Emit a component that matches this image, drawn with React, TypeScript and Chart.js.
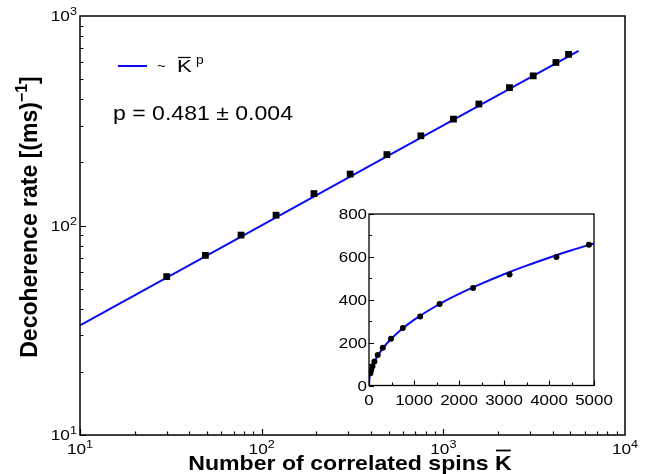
import React, { useEffect, useRef } from 'react';
import { Chart, registerables } from 'chart.js';

Chart.register(...registerables);

// ---- data ----
const spinsK = [30, 49, 77, 120, 194, 307, 489, 752, 1137, 1569, 2312, 3124, 4165, 4887];
const decoRate = [57, 72, 90, 112, 142, 176, 218, 268, 322, 380, 455, 518, 600, 656];
// fitted power-law line (end points as seen on the log-log plot)
const fitLineK = [10, 5550];
const fitLineRate = [33.4, 682];
// fitted curve as seen in the linear inset
const insetCurveK = [0, 10, 25, 50, 100, 200, 400, 700, 1000, 1500, 2000, 2500, 3000, 3500, 4000, 4500, 5000];
const insetCurveRate = [0, 33, 52, 72, 101, 141, 197, 258, 306, 372, 427, 475, 519, 559, 596, 631, 663];
// tick labels
const mainXTickValues = [10, 100, 1000, 10000];
const mainXTickExp = ['1', '2', '3', '4'];
const mainYTickValues = [10, 100, 1000];
const mainYTickExp = ['1', '2', '3'];
const insetXTickValues = [0, 1000, 2000, 3000, 4000, 5000];
const insetYTickValues = [0, 200, 400, 600, 800];

const BLUE = '#0a0af5';
const FONT = '"Liberation Sans", Arial, Helvetica, sans-serif';
const SX = 1.15; // horizontal text stretch seen in the reference

type Run = { t: string; font: string; dy?: number };

function drawRuns(
  ctx: CanvasRenderingContext2D,
  runs: Run[],
  x: number,
  y: number,
  align: 'left' | 'center' | 'right',
  sx = 1,
) {
  const widths = runs.map((r) => {
    ctx.font = r.font;
    return ctx.measureText(r.t).width * sx;
  });
  const total = widths.reduce((a, b) => a + b, 0);
  let cx = align === 'left' ? x : align === 'center' ? x - total / 2 : x - total;
  const starts: number[] = [];
  ctx.textAlign = 'left';
  ctx.textBaseline = 'alphabetic';
  runs.forEach((r, i) => {
    ctx.font = r.font;
    starts.push(cx);
    ctx.save();
    ctx.translate(cx, y + (r.dy || 0));
    ctx.scale(sx, 1);
    ctx.fillText(r.t, 0, 0);
    ctx.restore();
    cx += widths[i];
  });
  return { starts, widths, total };
}

const mainDecor = {
  id: 'mainDecor',
  afterDraw(chart: any) {
    const ctx: CanvasRenderingContext2D = chart.ctx;
    const { left, right, top, bottom } = chart.chartArea;
    const xs = chart.scales.x;
    const ys = chart.scales.y;
    ctx.save();
    ctx.strokeStyle = '#000';
    ctx.fillStyle = '#000';
    // frame
    ctx.lineWidth = 1.5;
    ctx.strokeRect(left, top, right - left, bottom - top);
    // ticks (inward)
    ctx.lineWidth = 1.2;
    ctx.beginPath();
    for (let d = 1; d <= 3; d++) {
      for (let m = 1; m <= 9; m++) {
        const v = m * Math.pow(10, d);
        const px = Math.round(xs.getPixelForValue(v)) + 0.5;
        const len = m === 1 ? 6 : 3.5;
        ctx.moveTo(px, bottom);
        ctx.lineTo(px, bottom - len);
      }
    }
    for (let d = 1; d <= 2; d++) {
      for (let m = 1; m <= 9; m++) {
        const v = m * Math.pow(10, d);
        const py = Math.round(ys.getPixelForValue(v)) + 0.5;
        const len = m === 1 ? 6 : 3.5;
        ctx.moveTo(left, py);
        ctx.lineTo(left + len, py);
      }
    }
    ctx.stroke();
    // tick labels
    mainXTickValues.forEach((v, i) => {
      const px = xs.getPixelForValue(v);
      drawRuns(ctx, [
        { t: '10', font: `15px ${FONT}` },
        { t: mainXTickExp[i], font: `11px ${FONT}`, dy: -6 },
      ], px, bottom + 19, 'center', SX);
    });
    mainYTickValues.forEach((v, i) => {
      const py = ys.getPixelForValue(v);
      drawRuns(ctx, [
        { t: '10', font: `15px ${FONT}` },
        { t: mainYTickExp[i], font: `11px ${FONT}`, dy: -6 },
      ], left - 3, py + 5, 'right', SX);
    });
    // x title
    const xt = drawRuns(ctx, [
      { t: 'Number of correlated spins ', font: `bold 21px ${FONT}` },
      { t: 'K', font: `bold 21px ${FONT}` },
    ], 350, 470, 'center', 1.1);
    ctx.lineWidth = 1.8;
    ctx.beginPath();
    ctx.moveTo(xt.starts[1] + 1, 450.5);
    ctx.lineTo(xt.starts[1] + xt.widths[1] - 1, 450.5);
    ctx.stroke();
    // y title
    ctx.save();
    ctx.translate(37, 217);
    ctx.rotate(-Math.PI / 2);
    drawRuns(ctx, [
      { t: 'Decoherence rate [(ms)', font: `bold 23px ${FONT}` },
      { t: '\u22121', font: `bold 16px ${FONT}`, dy: -10 },
      { t: ']', font: `bold 23px ${FONT}` },
    ], 0, 0, 'center');
    ctx.restore();
    // legend
    ctx.strokeStyle = BLUE;
    ctx.lineWidth = 2;
    ctx.beginPath();
    ctx.moveTo(118, 66);
    ctx.lineTo(147, 66);
    ctx.stroke();
    ctx.fillStyle = '#000';
    ctx.strokeStyle = '#000';
    drawRuns(ctx, [{ t: '~', font: `13px ${FONT}` }], 157, 70, 'left', SX);
    const k = drawRuns(ctx, [{ t: 'K', font: `17px ${FONT}` }], 177, 72, 'left', 1.3);
    drawRuns(ctx, [{ t: 'p', font: `12px ${FONT}` }], 196, 64, 'left', SX);
    ctx.lineWidth = 1.3;
    ctx.beginPath();
    ctx.moveTo(k.starts[0] + 1, 57.5);
    ctx.lineTo(k.starts[0] + k.widths[0] - 1, 57.5);
    ctx.stroke();
    drawRuns(ctx, [{ t: 'p = 0.481 \u00b1 0.004', font: `20.5px ${FONT}` }], 113, 120, 'left', 1.125);
    ctx.restore();
  },
};

const insetDecor = {
  id: 'insetDecor',
  afterDraw(chart: any) {
    const ctx: CanvasRenderingContext2D = chart.ctx;
    const { left, right, top, bottom } = chart.chartArea;
    const xs = chart.scales.x;
    const ys = chart.scales.y;
    ctx.save();
    ctx.strokeStyle = '#000';
    ctx.fillStyle = '#000';
    ctx.lineWidth = 1.3;
    ctx.strokeRect(left, top, right - left, bottom - top);
    ctx.lineWidth = 1.1;
    ctx.beginPath();
    for (let v = 0; v <= 5000; v += 500) {
      const px = Math.round(xs.getPixelForValue(v)) + 0.5;
      const len = v % 1000 === 0 ? 5 : 3;
      ctx.moveTo(px, bottom);
      ctx.lineTo(px, bottom - len);
    }
    for (let v = 0; v <= 800; v += 100) {
      const py = Math.round(ys.getPixelForValue(v)) + 0.5;
      const len = v % 200 === 0 ? 5 : 3;
      ctx.moveTo(left, py);
      ctx.lineTo(left + len, py);
    }
    ctx.stroke();
    insetXTickValues.forEach((v) => {
      drawRuns(ctx, [{ t: String(v), font: `14.5px ${FONT}` }], xs.getPixelForValue(v), bottom + 19, 'center', 1.17);
    });
    insetYTickValues.forEach((v) => {
      drawRuns(ctx, [{ t: String(v), font: `14.5px ${FONT}` }], left - 2, ys.getPixelForValue(v) + 5, 'right', 1.17);
    });
    ctx.restore();
  },
};

export default function App() {
  const mainRef = useRef<HTMLCanvasElement | null>(null);
  const insetRef = useRef<HTMLCanvasElement | null>(null);

  useEffect(() => {
    const points = spinsK.map((k, i) => ({ x: k, y: decoRate[i] }));
    const fit = fitLineK.map((k, i) => ({ x: k, y: fitLineRate[i] }));
    const curve = insetCurveK.map((k, i) => ({ x: k, y: insetCurveRate[i] }));

    const main = new Chart(mainRef.current!, {
      type: 'scatter',
      data: {
        datasets: [
          {
            data: points,
            pointStyle: 'rect',
            pointRadius: 4.8,
            backgroundColor: '#000',
            borderColor: '#000',
            borderWidth: 0,
          },
          {
            type: 'line',
            data: fit,
            showLine: true,
            pointRadius: 0,
            borderColor: BLUE,
            borderWidth: 2,
            fill: false,
          } as any,
        ],
      },
      options: {
        animation: false,
        responsive: false,
        devicePixelRatio: 1,
        layout: { padding: { left: 80, top: 16, right: 24, bottom: 39 } },
        plugins: { legend: { display: false }, tooltip: { enabled: false } },
        scales: {
          x: { type: 'logarithmic', min: 10, max: 10000, display: false },
          y: { type: 'logarithmic', min: 10, max: 1000, display: false },
        },
      },
      plugins: [mainDecor],
    });

    const inset = new Chart(insetRef.current!, {
      type: 'scatter',
      data: {
        datasets: [
          {
            data: points,
            pointStyle: 'circle',
            pointRadius: 3,
            backgroundColor: '#000',
            borderColor: '#000',
            borderWidth: 0,
          },
          {
            type: 'line',
            data: curve,
            showLine: true,
            pointRadius: 0,
            borderColor: BLUE,
            borderWidth: 2,
            cubicInterpolationMode: 'monotone',
            fill: false,
          } as any,
        ],
      },
      options: {
        animation: false,
        responsive: false,
        devicePixelRatio: 1,
        layout: { padding: { left: 39, top: 9, right: 26, bottom: 24.5 } },
        plugins: { legend: { display: false }, tooltip: { enabled: false } },
        scales: {
          x: { type: 'linear', min: 0, max: 5000, display: false },
          y: { type: 'linear', min: 0, max: 800, display: false },
        },
      },
      plugins: [insetDecor],
    });

    return () => {
      main.destroy();
      inset.destroy();
    };
  }, []);

  return (
    <div style={{ position: 'absolute', left: 0, top: 0, width: 649, height: 474, background: '#fff', overflow: 'hidden' }}>
      <canvas ref={mainRef} width={649} height={474} style={{ position: 'absolute', left: 0, top: 0, width: 649, height: 474 }} />
      <canvas ref={insetRef} width={290} height={205} style={{ position: 'absolute', left: 330, top: 205, width: 290, height: 205 }} />
    </div>
  );
}
